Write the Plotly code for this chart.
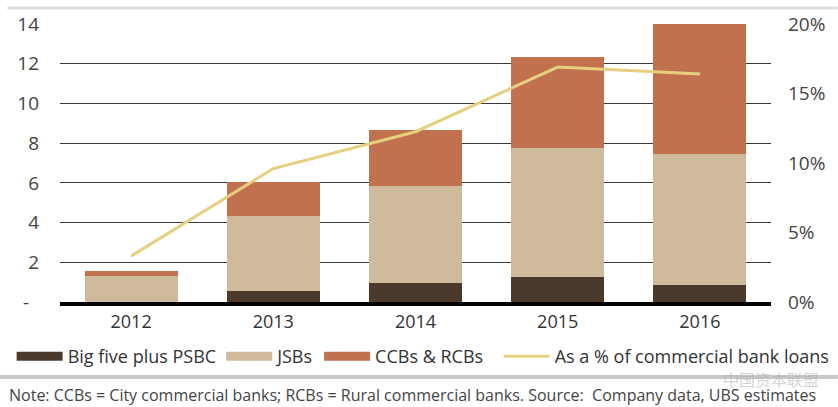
import plotly.graph_objects as go

years = ["2012", "2013", "2014", "2015", "2016"]
big_five = [0.0, 0.55, 0.97, 1.27, 0.87]
jsbs = [1.31, 3.76, 4.87, 6.50, 6.58]
ccbs_rcbs = [0.27, 1.75, 2.80, 4.55, 6.55]
pct_loans = [3.3, 9.6, 12.25, 16.9, 16.4]

left_ticks = [0, 2, 4, 6, 8, 10, 12, 14]
left_ticktext = ["-  ", "2", "4", "6", "8", "10", "12", "14"]
right_ticks = [0, 5, 10, 15, 20]
right_ticktext = ["0%", "5%", "10%", "15%", "20%"]

names = ["Big five plus PSBC", "JSBs", "CCBs & RCBs", "As a % of commercial bank loans"]
colors = ["#4b3a2c", "#cfbb9c", "#c2714f", "#e6d07f"]

FONT = "Open Sans"

fig = go.Figure()
for vals, name, col in zip([big_five, jsbs, ccbs_rcbs], names[:3], colors[:3]):
    fig.add_trace(go.Bar(x=years, y=vals, name=name, marker=dict(color=col, line=dict(width=0)),
                         showlegend=False))
# legend swatches
for name, col in zip(names[:3], colors[:3]):
    fig.add_trace(go.Scatter(x=[None], y=[None], mode="lines", name=name,
                             line=dict(color=col, width=9), legend="legend"))
fig.add_trace(go.Scatter(x=years, y=pct_loans, name=names[3], mode="lines", yaxis="y2",
                         line=dict(color=colors[3], width=3), legend="legend2"))

legend_common = dict(orientation="h", xanchor="left", y=-0.13, yanchor="top",
                     font=dict(size=18, color="#333333"), itemwidth=46,
                     traceorder="normal", bgcolor="rgba(0,0,0,0)", tracegroupgap=0)

fig.update_layout(
    width=838, height=407,
    margin=dict(l=60, r=67, t=24, b=105, autoexpand=False),
    barmode="stack", bargap=0.345,
    paper_bgcolor="white", plot_bgcolor="white",
    font=dict(family=FONT, color="#444444"),
    xaxis=dict(showline=True, linecolor="black", linewidth=4, ticks="",
               tickfont=dict(size=18, color="#333333"), showgrid=False),
    yaxis=dict(range=[0, 14], tickvals=left_ticks, ticktext=left_ticktext,
               showgrid=True, gridcolor="#3a3a3a", gridwidth=1, zeroline=False,
               tickfont=dict(size=19, color="#444444"), ticklabelstandoff=20),
    yaxis2=dict(range=[0, 20], overlaying="y", side="right", tickvals=right_ticks,
                ticktext=right_ticktext, showgrid=False, zeroline=False,
                tickfont=dict(size=19, color="#444444"), ticklabelstandoff=16),
    legend=dict(x=-0.068, **legend_common),
    legend2=dict(x=0.617, **legend_common),
    shapes=[
        dict(type="line", xref="paper", yref="paper", x0=-0.074, x1=1.094,
             y0=1.058, y1=1.058, line=dict(color="#dddddd", width=3)),
        dict(type="line", xref="paper", yref="paper", x0=-0.085, x1=1.094,
             y0=-0.27, y1=-0.27, line=dict(color="#c8c8c8", width=4)),
    ],
    annotations=[
        dict(text="Note: CCBs = City commercial banks; RCBs = Rural commercial banks. Source:  Company data, UBS estimates",
             xref="paper", yref="paper", x=-0.074, y=-0.335, xanchor="left", yanchor="middle",
             showarrow=False, font=dict(size=16, color="#444444")),
        dict(text="中国资本联盟", xref="paper", yref="paper", x=1.07, y=-0.278,
             xanchor="right", yanchor="middle", showarrow=False,
             font=dict(size=16, color="rgba(170,170,170,0.5)", family="Noto Sans CJK SC")),
    ],
)

fig.write_html("out.html")
